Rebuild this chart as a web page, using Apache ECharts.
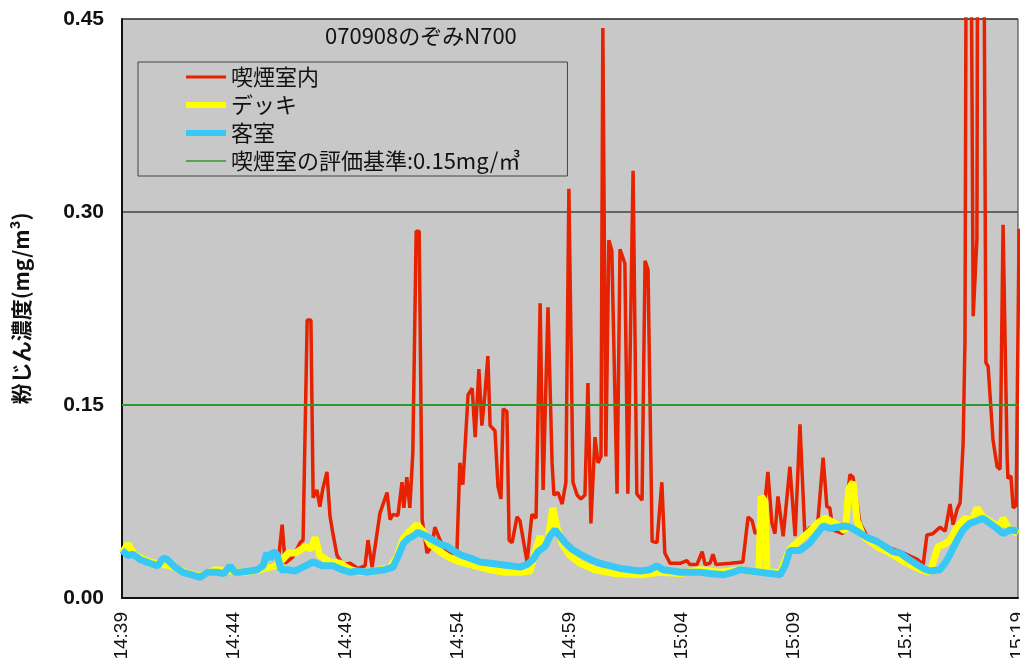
<!DOCTYPE html>
<html>
<head>
<meta charset="utf-8">
<script src="https://cdn.jsdelivr.net/npm/echarts/dist/echarts.min.js"></script>
<style>
html, body { margin: 0; padding: 0; background: #fff; }
#main { width: 1020px; height: 666px; }
</style>
</head>
<body>
<div id="main"></div>
<script>
// 経過秒 (14:39:00 起点) と粉じん濃度 mg/m3
var redT = [391, 418, 429, 437, 458, 477, 485, 496, 506, 512, 522, 530, 538, 549, 557, 565, 576, 592, 611, 632,
    651, 659, 670, 691, 710, 718, 726, 739, 750, 755, 763, 771, 779, 788, 796, 804, 817, 830, 838, 852,
    871, 897, 905, 913, 921, 927, 938, 946, 956, 964, 972, 980, 986, 999, 1007, 1015, 1021, 1031, 1037, 1045,
    1058, 1066, 1085, 1098, 1109, 1120, 1128, 1141, 1152, 1157, 1168, 1179, 1189, 1197, 1208, 1219, 1229, 1240, 1248, 1256,
    1267, 1275, 1283, 1288, 1296, 1304, 1312, 1326, 1334, 1347, 1355, 1369, 1379, 1393, 1401, 1409, 1420, 1433, 1446, 1454,
    1468, 1495, 1513, 1521, 1540, 1554, 1562, 1575, 1583, 1591, 1629, 1663, 1677, 1688, 1696, 1704, 1714, 1730, 1741, 1749,
    1757, 1771, 1789, 1803, 1816, 1829, 1843, 1862, 1878, 1888, 1896, 1904, 1931, 1950, 1958, 1977, 1996, 2022, 2057, 2092,
    2130, 2146, 2156, 2172, 2191, 2205, 2218, 2226, 2237, 2245, 2253, 2258, 2263, 2271, 2280, 2290, 2293, 2306, 2314, 2320,
    2333, 2344, 2352, 2360, 2371, 2373, 2381, 2387, 2395, 2403];
var redV = [0.025, 0.027, 0.057, 0.027, 0.032, 0.043, 0.045, 0.216, 0.216, 0.078, 0.084, 0.071, 0.085, 0.098, 0.064, 0.05, 0.033, 0.026, 0.027, 0.023,
    0.025, 0.045, 0.024, 0.066, 0.082, 0.061, 0.065, 0.064, 0.09, 0.07, 0.094, 0.07, 0.113, 0.285, 0.285, 0.061, 0.035, 0.04, 0.055, 0.045,
    0.035, 0.035, 0.105, 0.088, 0.128, 0.158, 0.163, 0.125, 0.178, 0.134, 0.158, 0.188, 0.134, 0.13, 0.087, 0.077, 0.147, 0.145, 0.045, 0.043,
    0.063, 0.06, 0.028, 0.065, 0.062, 0.229, 0.084, 0.226, 0.105, 0.08, 0.082, 0.073, 0.09, 0.318, 0.09, 0.08, 0.077, 0.08, 0.167, 0.058,
    0.125, 0.105, 0.11, 0.443, 0.11, 0.278, 0.27, 0.081, 0.271, 0.26, 0.081, 0.332, 0.081, 0.076, 0.262, 0.255, 0.044, 0.043, 0.09, 0.035,
    0.027, 0.027, 0.029, 0.026, 0.026, 0.036, 0.026, 0.027, 0.034, 0.026, 0.027, 0.028, 0.063, 0.06, 0.05, 0.052, 0.05, 0.098, 0.058, 0.05,
    0.079, 0.048, 0.102, 0.048, 0.135, 0.05, 0.055, 0.053, 0.109, 0.071, 0.07, 0.053, 0.05, 0.096, 0.094, 0.058, 0.048, 0.043, 0.039, 0.035,
    0.03, 0.026, 0.049, 0.05, 0.055, 0.052, 0.073, 0.057, 0.069, 0.074, 0.12, 0.2, 0.7, 0.7, 0.219, 0.279, 0.7, 0.7, 0.183, 0.18,
    0.123, 0.102, 0.1, 0.29, 0.108, 0.093, 0.095, 0.07, 0.072, 0.287];

var deckT = [0, 16, 35, 75, 129, 169, 209, 249, 289, 329, 370, 410, 431, 445, 466, 490, 506, 517, 530, 557,
    584, 611, 638, 664, 691, 718, 737, 753, 771, 790, 806, 825, 852, 879, 905, 946, 986, 1026, 1066, 1093,
    1106, 1120, 1130, 1141, 1154, 1165, 1179, 1200, 1227, 1267, 1321, 1388, 1441, 1495, 1548, 1602, 1655, 1706, 1712, 1722,
    1728, 1763, 1789, 1816, 1843, 1862, 1883, 1910, 1937, 1947, 1958, 1969, 1985, 2022, 2057, 2097, 2138, 2164, 2186, 2205,
    2218, 2237, 2258, 2277, 2290, 2306, 2333, 2352, 2360, 2373, 2400];
var deckV = [0.035, 0.042, 0.033, 0.028, 0.025, 0.02, 0.017, 0.022, 0.021, 0.02, 0.022, 0.025, 0.03, 0.035, 0.035, 0.04, 0.038, 0.047, 0.033, 0.028,
    0.027, 0.022, 0.02, 0.02, 0.022, 0.024, 0.032, 0.046, 0.052, 0.057, 0.052, 0.042, 0.036, 0.031, 0.028, 0.025, 0.022, 0.02, 0.02, 0.021,
    0.035, 0.048, 0.04, 0.045, 0.07, 0.055, 0.042, 0.033, 0.027, 0.022, 0.019, 0.018, 0.02, 0.019, 0.022, 0.02, 0.022, 0.02, 0.079, 0.075,
    0.02, 0.02, 0.038, 0.045, 0.052, 0.058, 0.062, 0.058, 0.052, 0.085, 0.09, 0.06, 0.048, 0.04, 0.035, 0.028, 0.022, 0.02, 0.04, 0.042,
    0.045, 0.055, 0.062, 0.06, 0.07, 0.063, 0.058, 0.056, 0.062, 0.055, 0.05];

var roomT = [0, 16, 29, 48, 75, 96, 110, 121, 142, 163, 188, 209, 230, 254, 273, 289, 303, 316, 343, 362,
    378, 388, 396, 404, 415, 426, 442, 463, 485, 512, 536, 565, 589, 611, 632, 656, 678, 704, 726, 739,
    753, 766, 779, 793, 809, 833, 852, 871, 892, 911, 932, 959, 986, 1013, 1039, 1066, 1085, 1101, 1114, 1133,
    1146, 1160, 1173, 1187, 1205, 1227, 1254, 1280, 1307, 1334, 1361, 1388, 1414, 1433, 1449, 1473, 1495, 1521, 1548, 1575,
    1610, 1637, 1655, 1682, 1709, 1736, 1763, 1776, 1789, 1816, 1843, 1862, 1878, 1896, 1915, 1937, 1950, 1969, 1985, 2004,
    2022, 2044, 2065, 2084, 2103, 2124, 2146, 2164, 2191, 2207, 2218, 2237, 2253, 2271, 2290, 2306, 2325, 2344, 2360, 2379, 2400];
var roomV = [0.037, 0.033, 0.034, 0.03, 0.027, 0.025, 0.031, 0.03, 0.024, 0.02, 0.018, 0.016, 0.02, 0.02, 0.019, 0.025, 0.02, 0.02, 0.021, 0.022,
    0.025, 0.035, 0.03, 0.036, 0.034, 0.022, 0.022, 0.021, 0.024, 0.028, 0.025, 0.025, 0.022, 0.02, 0.021, 0.02, 0.021, 0.022, 0.024, 0.032,
    0.042, 0.046, 0.048, 0.051, 0.049, 0.045, 0.042, 0.04, 0.036, 0.033, 0.031, 0.028, 0.027, 0.026, 0.025, 0.024, 0.026, 0.03, 0.036, 0.04,
    0.048, 0.053, 0.048, 0.043, 0.038, 0.034, 0.03, 0.027, 0.025, 0.023, 0.022, 0.021, 0.022, 0.025, 0.022, 0.021, 0.02, 0.02, 0.02, 0.019,
    0.018, 0.02, 0.022, 0.021, 0.02, 0.019, 0.018, 0.025, 0.037, 0.037, 0.043, 0.05, 0.056, 0.054, 0.055, 0.056, 0.055, 0.052, 0.049, 0.046,
    0.044, 0.04, 0.036, 0.035, 0.031, 0.027, 0.023, 0.021, 0.022, 0.028, 0.034, 0.045, 0.053, 0.058, 0.06, 0.062, 0.058, 0.054, 0.05, 0.053, 0.052];

var limitT = [0, 2400];
var limitV = [0.15, 0.15];

var names = ['喫煙室内', 'デッキ', '客室', '喫煙室の評価基準:0.15mg/㎥'];
var colors = ['#e62200', '#ffff00', '#38c8f5', '#2e9a2e'];
var widths = [3.5, 7, 7, 2];

function pairs(t, v) {
    return t.map(function (s, i) { return [s, v[i]]; });
}

function clock(sec) {
    var m = 14 * 60 + 39 + Math.round(sec / 60);
    var mm = m % 60;
    return Math.floor(m / 60) + ':' + (mm < 10 ? '0' + mm : mm);
}

var latin = "'Liberation Sans', Arial, 'Noto Sans CJK JP', sans-serif";
var jp = "'Noto Sans CJK JP', sans-serif";

var myChart = echarts.init(document.getElementById('main'));

var option = {
    backgroundColor: '#fff',
    animation: false,
    title: {
        text: '070908のぞみN700',
        left: 320,
        top: 20,
        textStyle: { fontFamily: jp, fontSize: 22, fontWeight: 'normal', color: '#111' }
    },
    legend: {
        orient: 'vertical',
        left: 138,
        top: 62,
        padding: [4, 47, 4, 45],
        itemGap: 6,
        itemWidth: 40,
        itemHeight: 12,
        borderColor: '#444',
        borderWidth: 1,
        itemStyle: { opacity: 0 },
        data: names.map(function (n, i) {
            return { name: n, itemStyle: { opacity: 0 }, lineStyle: { color: colors[i], width: i === 0 ? 3 : (i === 3 ? 1.5 : 6) } };
        }),
        textStyle: { fontFamily: jp, fontSize: 22, lineHeight: 21, color: '#111' }
    },
    grid: {
        left: 122,
        right: 2,
        top: 19,
        bottom: 68,
        outerBoundsMode: 'none',
        containLabel: false,
        show: true,
        backgroundColor: '#c8c8c8',
        borderColor: '#333',
        borderWidth: 1
    },
    xAxis: {
        type: 'value',
        min: 0,
        max: 2400,
        interval: 300,
        axisLine: { lineStyle: { color: '#111', width: 2 } },
        axisTick: { show: false },
        splitLine: { show: false },
        axisLabel: {
            rotate: 90,
            margin: 14,
            fontFamily: latin,
            fontSize: 19,
            color: '#111',
            showMaxLabel: true,
            hideOverlap: false,
            formatter: clock
        }
    },
    yAxis: {
        type: 'value',
        min: 0,
        max: 0.45,
        interval: 0.15,
        name: '粉じん濃度(mg/m³)',
        nameLocation: 'middle',
        nameGap: 90,
        nameTextStyle: { fontFamily: jp, fontSize: 21, fontWeight: 'bold', color: '#111' },
        axisLine: { show: true, lineStyle: { color: '#111', width: 2 } },
        axisTick: { show: false },
        splitLine: { lineStyle: { color: '#444', width: 1.5 } },
        axisLabel: {
            margin: 18,
            fontFamily: latin,
            fontSize: 21,
            fontWeight: 'bold',
            color: '#111',
            formatter: function (v) { return v.toFixed(2); }
        }
    },
    series: names.map(function (n, i) {
        var d = [pairs(redT, redV), pairs(deckT, deckV), pairs(roomT, roomV), pairs(limitT, limitV)][i];
        return {
            name: n,
            type: 'line',
            data: d,
            symbol: 'none',
            color: colors[i],
            lineStyle: { width: widths[i] }
        };
    })
};

myChart.setOption(option);
</script>
</body>
</html>
